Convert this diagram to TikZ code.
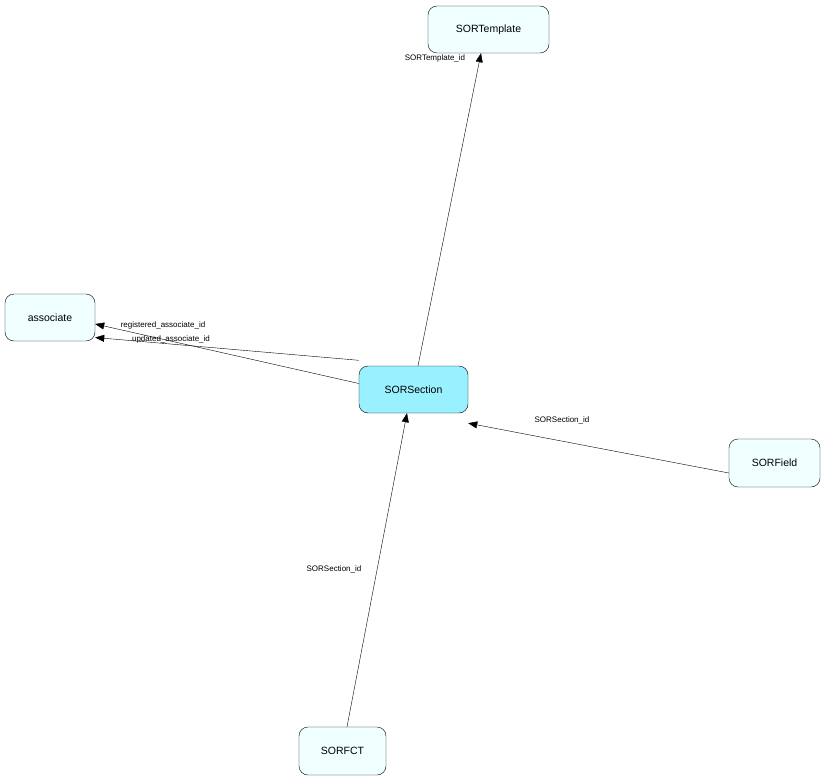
\documentclass[tikz,border=0pt]{standalone}
\usepackage{fontspec}
\setmainfont{Liberation Sans}
\usetikzlibrary{arrows.meta}
\definecolor{lightfill}{HTML}{F0FFFF}
\definecolor{mainfill}{HTML}{99F0FF}
\begin{document}
\begin{tikzpicture}[x=1pt,y=-1pt,
  ent/.style={draw,rounded corners=9pt,fill=lightfill,font=\fontsize{10.5}{12}\selectfont,inner sep=0pt},
  rel/.style={-{Triangle[length=9pt,width=7pt]},black},
  lab/.style={font=\fontsize{8}{9}\selectfont,inner sep=1pt}]
\useasboundingbox (0,0) rectangle (825,781);
\node[ent,minimum width=121pt,minimum height=47pt] (tpl) at (488.5,29.5) {SORTemplate};
\node[ent,minimum width=90pt,minimum height=47pt] (asc) at (50,317.5) {associate};
\node[ent,fill=mainfill,minimum width=109pt,minimum height=47pt] (sec) at (413.5,389.5) {SORSection};
\node[ent,minimum width=91pt,minimum height=48pt] (fld) at (774.5,463) {SORField};
\node[ent,minimum width=87pt,minimum height=48pt] (fct) at (342.5,751) {SORFCT};
\draw[rel] ([xshift=4.5pt]sec.north) -- ([xshift=-7.5pt]tpl.south);
\node[lab] at (435,58) {SORTemplate\_id};
\draw[rel] ([yshift=5.5pt]sec.north west) -- ([yshift=-20pt]asc.east);
\node[lab] at (163,325) {registered\_associate\_id};
\draw[rel] ([yshift=6pt]sec.west) -- ([yshift=-6.5pt]asc.east);
\node[lab] at (171,339) {updated\_associate\_id};
\draw[rel] ([yshift=-10pt]fld.west) -- ([yshift=-10pt]sec.south east);
\node[lab] at (562,420) {SORSection\_id};
\draw[rel] ([xshift=4.5pt]fct.north) -- ([xshift=-6.5pt]sec.south);
\node[lab] at (334,569) {SORSection\_id};
\end{tikzpicture}
\end{document}
